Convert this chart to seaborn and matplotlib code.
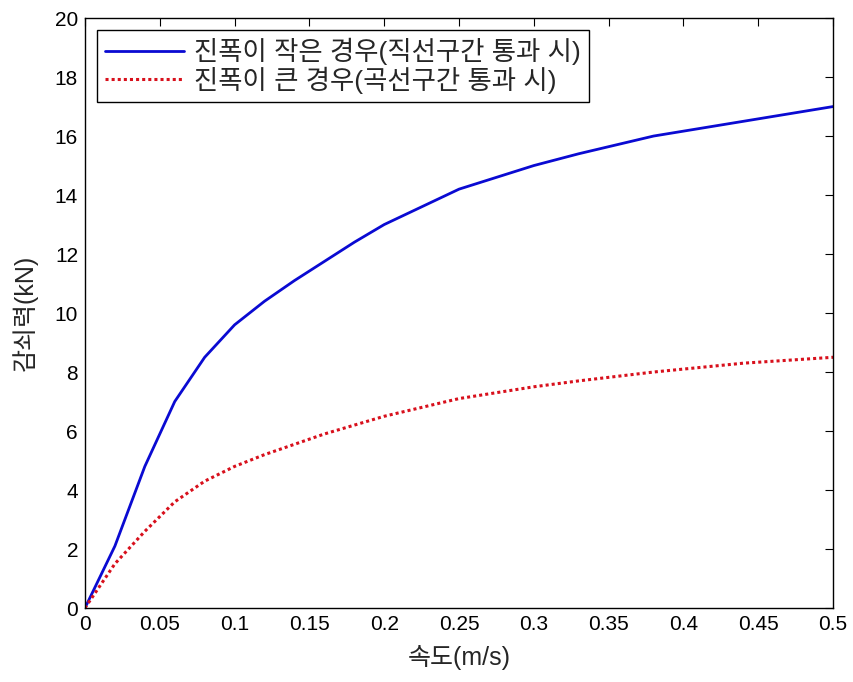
import matplotlib
matplotlib.use("Agg")
import matplotlib.pyplot as plt
import seaborn as sns
import pandas as pd

# speed (m/s) and damping force (kN)
speed = [0, 0.02, 0.04, 0.06, 0.08, 0.1, 0.12, 0.14, 0.16, 0.18, 0.2, 0.225, 0.25,
         0.3, 0.33, 0.38, 0.44, 0.5]
force_small = [0, 2.1, 4.8, 7.0, 8.5, 9.6, 10.4, 11.1, 11.75, 12.4, 13.0, 13.6, 14.2,
               15.0, 15.4, 16.0, 16.5, 17.0]
force_large = [0, 1.5, 2.6, 3.6, 4.3, 4.8, 5.2, 5.55, 5.9, 6.2, 6.5, 6.8, 7.1,
               7.5, 7.7, 8.0, 8.3, 8.5]

label_small = "진폭이 작은 경우(직선구간 통과 시)"
label_large = "진폭이 큰 경우(곡선구간 통과 시)"

xticks = [0, 0.05, 0.1, 0.15, 0.2, 0.25, 0.3, 0.35, 0.4, 0.45, 0.5]
xticklabels = ["0", "0.05", "0.1", "0.15", "0.2", "0.25", "0.3", "0.35", "0.4", "0.45", "0.5"]
yticks = [0, 2, 4, 6, 8, 10, 12, 14, 16, 18, 20]

sns.set_style("white")
plt.rcParams['font.family'] = ['Liberation Sans', 'Noto Sans CJK KR']
plt.rcParams['axes.unicode_minus'] = False

df = pd.DataFrame({"speed": speed, "small": force_small, "large": force_large})

fig = plt.figure(figsize=(8.54, 6.82), dpi=100)
ax = fig.add_axes([0.0995, 0.1085, 0.876, 0.865])

sns.lineplot(data=df, x="speed", y="small", ax=ax, color="#0a0ad2", linewidth=2.0,
             label=label_small)
sns.lineplot(data=df, x="speed", y="large", ax=ax, color="#d8101c", linewidth=2.2,
             linestyle=(0, (1, 1)), label=label_large)

ax.set_xlim(0, 0.5)
ax.set_ylim(0, 20)
ax.set_xticks(xticks)
ax.set_xticklabels(xticklabels)
ax.set_yticks(yticks)
ax.tick_params(direction="in", length=6, width=0.8, labelsize=15, colors="black",
               top=True, right=True, pad=5)
for s in ax.spines.values():
    s.set_color("black")
    s.set_linewidth(1.0)

ax.set_xlabel("속도(m/s)", fontsize=18, labelpad=8)
ax.set_ylabel("감쇠력(kN)", fontsize=18, labelpad=12)

leg = ax.legend(loc="upper left", fontsize=19, handlelength=3.0, frameon=True,
                fancybox=False, edgecolor="black", framealpha=1,
                borderaxespad=0.45, borderpad=0.3, labelspacing=0.05, handletextpad=0.4)
leg.get_frame().set_linewidth(1.0)

fig.savefig("out.png", dpi=100)
